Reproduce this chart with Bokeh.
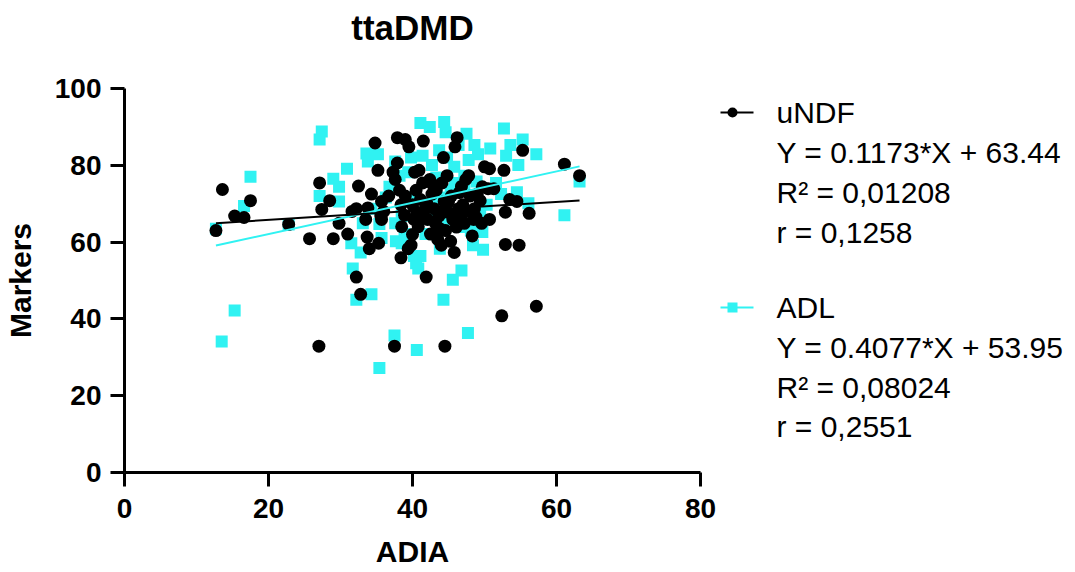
from bokeh.plotting import figure
from bokeh.layouts import row
from bokeh.models import Range1d, FixedTicker, Label, Title
from bokeh.embed import file_html
from bokeh.resources import INLINE

# ---------------- data ----------------
title_text = "ttaDMD"
x_label = "ADIA"
y_label = "Markers"
x_ticks = [0, 20, 40, 60, 80]
y_ticks = [0, 20, 40, 60, 80, 100]

undf_points = [
    (12.7, 63.0), (13.6, 73.7), (15.3, 66.8), (16.6, 66.4), (17.5, 70.8), (22.8, 64.6),
    (25.7, 60.9), (27.1, 75.4), (27.4, 68.5), (27.0, 32.9), (28.5, 70.8), (29.0, 60.9),
    (29.8, 64.9), (31.0, 62.1), (31.6, 68.0), (32.2, 68.7), (32.5, 74.6), (32.2, 50.9),
    (32.8, 46.4), (33.5, 65.9), (33.8, 68.9), (33.7, 61.3), (34.0, 58.3), (34.3, 72.5),
    (34.8, 85.8), (35.2, 78.7), (35.3, 59.7), (35.6, 66.8), (35.7, 70.6), (35.7, 65.9),
    (36.7, 72.0), (37.3, 78.2), (37.5, 32.9), (37.6, 76.3), (37.9, 80.6), (37.9, 87.2),
    (38.2, 73.5), (38.4, 69.7), (38.4, 55.9), (38.5, 64.0), (39.0, 86.7), (39.4, 58.3),
    (39.5, 84.8), (39.8, 59.2), (40.0, 69.7), (40.2, 65.9), (40.3, 78.2), (40.5, 73.5),
    (40.6, 67.8), (40.8, 64.0), (40.9, 78.7), (41.1, 71.1), (41.4, 75.4), (41.5, 86.3),
    (41.8, 68.7), (41.9, 50.9), (42.1, 65.9), (42.4, 76.3), (42.5, 62.1), (42.7, 72.5),
    (43.0, 68.7), (43.2, 64.9), (43.3, 73.5), (43.5, 60.7), (43.7, 66.8), (44.0, 59.2),
    (44.1, 75.4), (44.3, 82.0), (44.4, 70.6), (44.5, 32.9), (44.6, 63.0), (44.8, 77.3),
    (44.9, 67.8), (45.3, 60.2), (45.4, 72.0), (45.6, 65.9), (45.8, 57.3), (45.9, 84.8),
    (46.1, 63.9), (46.2, 87.2), (46.4, 68.7), (46.5, 72.9), (46.7, 66.8), (47.0, 69.7),
    (47.2, 64.9), (47.4, 76.3), (47.8, 77.3), (48.0, 72.0), (48.3, 61.6), (48.5, 65.9),
    (48.6, 68.7), (49.4, 70.8), (49.6, 64.9), (49.7, 74.4), (50.0, 79.6), (50.5, 73.9),
    (50.7, 79.1), (50.7, 65.9), (51.3, 73.9), (52.4, 40.8), (52.7, 78.7), (52.9, 67.8),
    (52.9, 59.4), (53.5, 71.1), (54.5, 70.6), (54.8, 59.2), (55.3, 83.9), (56.2, 67.5),
    (57.2, 43.3), (61.1, 80.3), (63.2, 77.3),
    (42.0, 70.0), (43.8, 63.5), (45.0, 70.5), (46.0, 66.0), (47.5, 68.0), (39.0, 72.0),
    (41.0, 66.5), (44.2, 68.0), (48.8, 66.5), (36.0, 68.0), (38.9, 67.0), (42.8, 75.0),
    (46.8, 74.5), (49.0, 72.5), (40.0, 62.0),
]

adl_points = [
    (13.5, 34.1), (15.3, 42.2), (17.5, 77.0), (16.6, 69.4), (12.7, 63.5), (27.1, 86.7),
    (27.4, 88.8), (27.1, 72.0), (29.0, 76.5), (29.8, 74.4), (29.8, 70.6), (30.9, 79.1),
    (31.5, 59.7), (31.7, 53.1), (32.2, 45.0), (32.8, 57.3), (33.6, 83.1), (33.8, 81.0),
    (34.3, 46.4), (35.2, 82.9), (35.4, 64.7), (35.4, 27.2), (36.3, 71.6), (36.8, 74.4),
    (37.5, 35.7), (37.6, 81.0), (37.7, 60.2), (38.2, 77.3), (38.5, 66.8), (38.9, 62.1),
    (39.4, 78.2), (39.8, 82.0), (40.2, 56.4), (40.5, 54.5), (40.6, 31.9), (40.8, 53.1),
    (41.1, 91.0), (41.1, 56.4), (41.4, 82.5), (42.4, 90.0), (42.7, 80.1), (43.0, 70.1),
    (43.7, 83.9), (43.8, 58.3), (44.3, 45.0), (44.4, 91.3), (44.6, 88.6), (44.8, 82.0),
    (44.9, 65.9), (45.6, 50.2), (45.8, 79.6), (45.9, 75.4), (46.4, 85.3), (46.8, 52.6),
    (47.2, 77.3), (47.5, 88.2), (47.7, 36.3), (47.8, 81.4), (48.1, 63.0), (48.4, 59.2),
    (48.6, 85.3), (49.1, 82.9), (49.7, 62.6), (49.8, 58.0), (50.3, 69.7), (50.8, 84.4),
    (51.6, 75.4), (52.3, 72.5), (52.7, 89.6), (53.0, 82.5), (53.6, 85.3), (54.5, 73.0),
    (54.7, 80.1), (55.3, 86.7), (56.1, 70.1), (57.2, 82.9), (61.1, 67.0), (63.2, 75.8),
    (37.6, 64.9), (38.5, 59.7), (40.2, 71.6), (41.8, 62.1), (43.3, 76.8), (44.0, 71.6),
    (46.5, 63.9), (48.9, 75.8), (49.4, 67.8), (47.2, 73.5), (35.7, 61.1), (34.3, 68.7),
    (33.1, 64.9), (46.8, 68.2), (45.3, 73.5), (42.7, 65.9), (22.8, 64.6),
]

slopes = [0.1173, 0.4077]
intercepts = [63.44, 53.95]
legend_lines = [
    ["uNDF", "Y = 0.1173*X + 63.44", "R\u00b2 = 0,01208", "r = 0,1258"],
    ["ADL", "Y = 0.4077*X + 53.95", "R\u00b2 = 0,08024", "r = 0,2551"],
]

# ---------------- styles / layout ----------------
BLACK = "#000000"
CYAN = "#30F2F2"
FONT = "Liberation Sans"
H = 572
W1 = 720
W2 = 355
TOP, BOTTOM = 88, 472

p = figure(width=W1, height=H, output_backend="svg", toolbar_location=None,
           x_range=Range1d(0, 80), y_range=Range1d(0, 100),
           min_border_left=124, min_border_right=20, min_border_top=TOP,
           min_border_bottom=H - BOTTOM, background_fill_color="white",
           border_fill_color="white")
p.grid.visible = False
p.outline_line_color = None

# real title (outermost slot) and an invisible spacer between it and the frame
p.title.text = title_text
p.title.align = "center"
p.title.vertical_align = "top"
p.title.standoff = 0
p.title.text_font = FONT
p.title.text_font_style = "bold"
p.title.text_font_size = "35px"
p.title.text_color = BLACK
p.add_layout(Title(text="\u00a0", text_font_size="20px", standoff=16), "above")

for ax, ticks in ((p.xaxis, x_ticks), (p.yaxis, y_ticks)):
    ax.ticker = FixedTicker(ticks=ticks)
    ax.axis_line_width = 3
    ax.axis_line_color = BLACK
    ax.major_tick_line_width = 3
    ax.major_tick_line_color = BLACK
    ax.major_tick_out = 14
    ax.major_tick_in = 0
    ax.minor_tick_line_color = None
    ax.major_label_text_font = FONT
    ax.major_label_text_font_style = "bold"
    ax.major_label_text_font_size = "28px"
    ax.major_label_text_color = BLACK
    ax.axis_label_text_font = FONT
    ax.axis_label_text_font_style = "bold"
    ax.axis_label_text_color = BLACK
p.xaxis.major_label_standoff = 12
p.yaxis.major_label_standoff = 9
p.xaxis.axis_label = x_label
p.yaxis.axis_label = y_label
p.xaxis.axis_label_text_font_size = "30px"
p.yaxis.axis_label_text_font_size = "30px"
p.xaxis.axis_label_standoff = 14
p.yaxis.axis_label_standoff = 15

ux = [a for a, b in undf_points]
uy = [b for a, b in undf_points]
ax_ = [a for a, b in adl_points]
ay_ = [b for a, b in adl_points]

p.scatter(ax_, ay_, marker="square", size=12, fill_color=CYAN, line_color=None)
p.scatter(ux, uy, marker="circle", size=13, fill_color=BLACK, line_color=None)

for xs, col, s, b in ((ax_, CYAN, slopes[1], intercepts[1]), (ux, BLACK, slopes[0], intercepts[0])):
    x0, x1 = min(xs), max(xs)
    p.line([x0, x1], [s * x0 + b, s * x1 + b], line_color=col, line_width=2)

# ---------------- legend panel (page-pixel coordinates) ----------------
q = figure(width=W2, height=H, output_backend="svg", toolbar_location=None,
           x_range=Range1d(W1, W1 + W2), y_range=Range1d(BOTTOM, TOP),
           min_border_left=0, min_border_right=0, min_border_top=TOP,
           min_border_bottom=H - BOTTOM,
           background_fill_color="white", border_fill_color="white")
q.axis.visible = False
q.grid.visible = False
q.outline_line_color = None

for (py, col, mk) in ((112, BLACK, "circle"), (307, CYAN, "square")):
    q.line([711, 753], [py, py], line_color=col, line_width=2)
    q.scatter([732], [py], marker=mk, size=10, fill_color=col, line_color=None)

centers = [[112, 152, 192, 232], [307, 347, 387, 426]]
for lines, cs in zip(legend_lines, centers):
    for t, c in zip(lines, cs):
        q.add_layout(Label(x=776, y=c, text=t, text_font=FONT,
                           text_font_size="30px", text_color=BLACK,
                           text_align="left", text_baseline="middle"))

open("out.html", "w").write(file_html(row(p, q), INLINE))
